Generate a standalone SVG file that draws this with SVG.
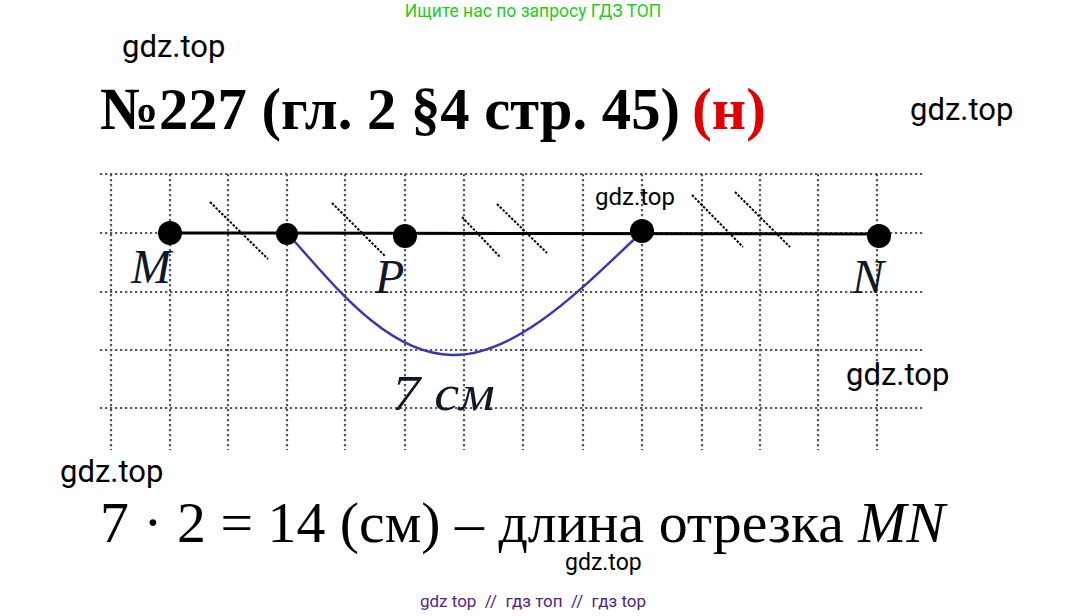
<svg xmlns="http://www.w3.org/2000/svg" width="1067" height="616" viewBox="0 0 1067 616">
<style>
.grid{stroke:#555;stroke-width:2.2;stroke-dasharray:2.2 2.8;fill:none}
.wm{font-family:Roboto,"Liberation Sans",sans-serif;fill:#000}
.lbl{font-family:"Liberation Serif",serif;font-style:italic;fill:#101828}
.tick{stroke:#000;stroke-width:2;stroke-dasharray:2.5 1.5}
.pt{fill:#000}
</style>
<rect width="1067" height="616" fill="#fff"/>
<text x="533" y="17" text-anchor="middle" font-family="Roboto,'Liberation Sans',sans-serif" font-size="17.5" fill="#22cc22">Ищите нас по запросу ГДЗ ТОП</text>
<g id="title">
<text x="100" y="129" font-family="'Liberation Serif',serif" font-weight="bold" font-size="60" fill="#000" textLength="580" lengthAdjust="spacingAndGlyphs">№227 (гл. 2 §4 стр. 45)</text>
<text x="692" y="129" font-family="'Liberation Serif',serif" font-weight="bold" font-size="60" fill="#e00000" textLength="74" lengthAdjust="spacingAndGlyphs">(н)</text>
</g>
<g id="grid">
<path class="grid" d="M100 174H925M100 233H925M100 292H925M100 350H925M100 408H925"/>
<path class="grid" d="M111 174V450M170 174V450M228 174V450M287 174V450M345 174V450M405 174V450M464 174V450M523 174V450M583 174V450M642 174V450M702 174V450M760 174V450M818 174V450M877 174V450"/>
</g>
<g id="connectors">
<line x1="170" y1="233" x2="879" y2="234" stroke="#000" stroke-width="3"/>
<path d="M287 233 C330 280 385 354 452 355 C520 356 590 280 642 232" fill="none" stroke="#3a36b0" stroke-width="2.4"/>
<line class="tick" x1="210" y1="202" x2="268" y2="259"/>
<line class="tick" x1="332" y1="203" x2="385" y2="256"/>
<line class="tick" x1="462" y1="217" x2="500" y2="257"/>
<line class="tick" x1="497" y1="204" x2="547" y2="253"/>
<line class="tick" x1="692" y1="195" x2="743" y2="247"/>
<line class="tick" x1="735" y1="192" x2="790" y2="247"/>
</g>
<g id="M"><circle class="pt" cx="170" cy="233" r="12"/><text class="lbl" x="131" y="283" font-size="48">M</text></g>
<g id="A"><circle class="pt" cx="287" cy="234" r="11"/></g>
<g id="P"><circle class="pt" cx="405" cy="236" r="12"/><text class="lbl" x="375" y="293" font-size="48">P</text></g>
<g id="B"><circle class="pt" cx="642" cy="231" r="12"/></g>
<g id="N"><circle class="pt" cx="879" cy="236" r="12"/><text class="lbl" x="852" y="293" font-size="48">N</text></g>
<text class="lbl" x="392" y="410" font-size="50" textLength="103" lengthAdjust="spacingAndGlyphs">7 см</text>
<g id="equation">
<text x="100" y="542" font-family="'Liberation Serif',serif" font-size="56" fill="#000" textLength="845" lengthAdjust="spacingAndGlyphs">7 · 2 = 14 (см) – длина отрезка <tspan font-style="italic">MN</tspan></text>
</g>
<g id="watermarks">
<text class="wm" x="122" y="57" font-size="31">gdz.top</text>
<text class="wm" x="910" y="120" font-size="31">gdz.top</text>
<text class="wm" x="595" y="205" font-size="24">gdz.top</text>
<text class="wm" x="846" y="385" font-size="31">gdz.top</text>
<text class="wm" x="60" y="482" font-size="31">gdz.top</text>
<text class="wm" x="565" y="570" font-size="23">gdz.top</text>
</g>
<text x="533" y="607" text-anchor="middle" font-family="Roboto,'Liberation Sans',sans-serif" font-size="17" fill="#552288" xml:space="preserve" style="white-space:pre">gdz top  //  гдз топ  //  гдз top</text>
</svg>
